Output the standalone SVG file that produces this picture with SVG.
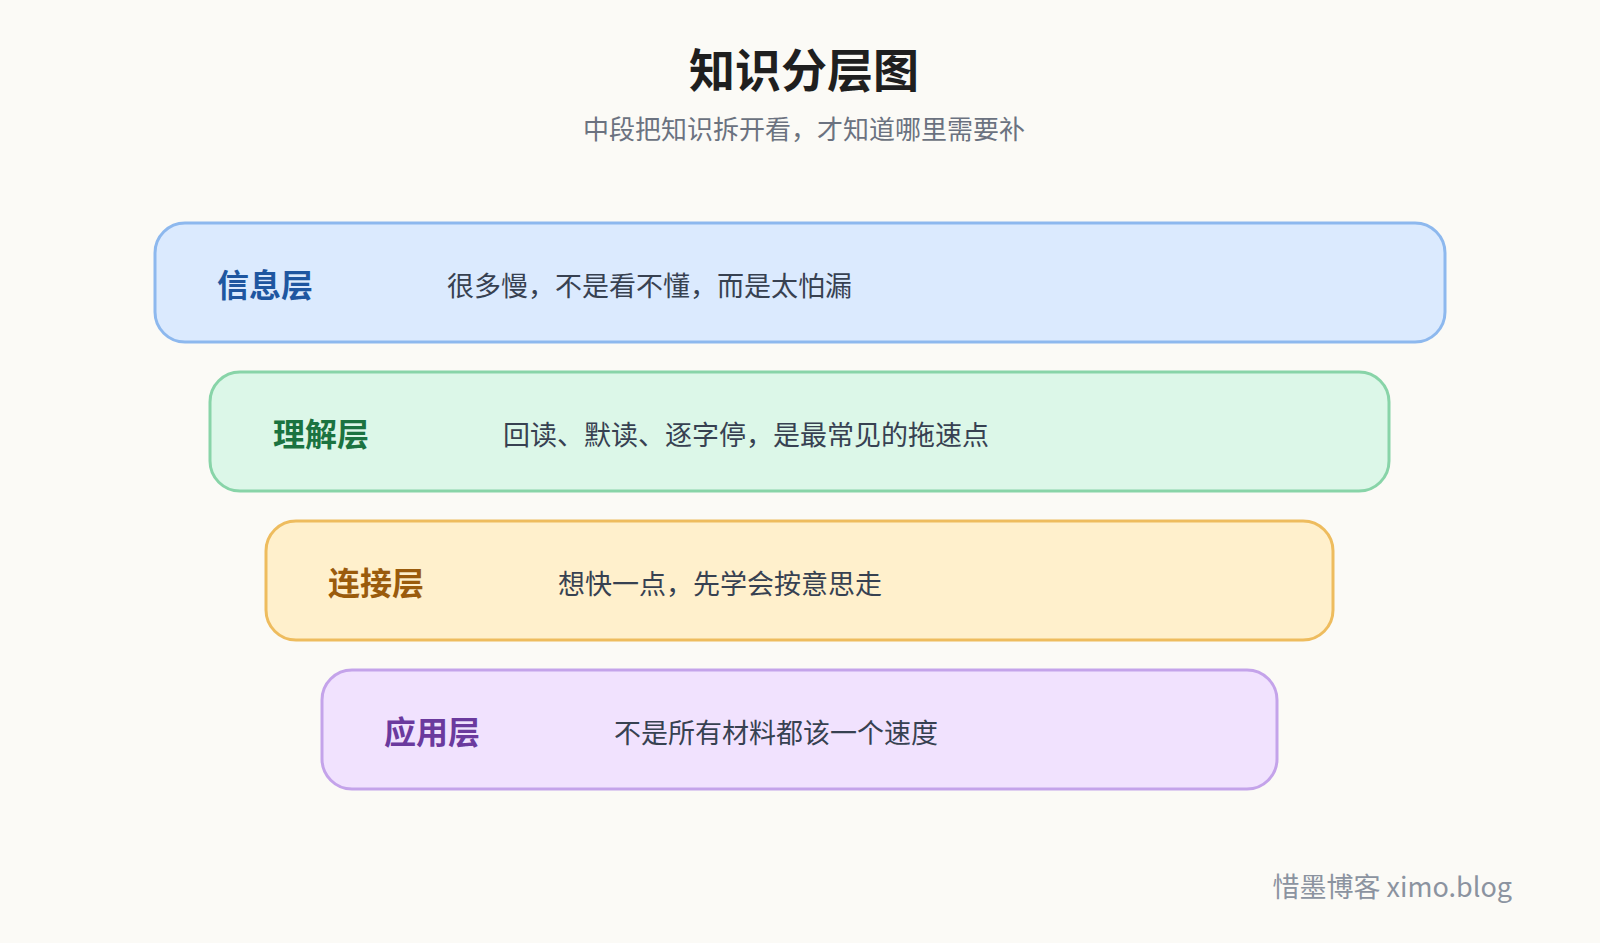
<svg xmlns="http://www.w3.org/2000/svg" width="1600" height="943" viewBox="0 0 1600 943">
<style>
text{font-family:"Noto Sans CJK SC","Noto Sans",sans-serif}
.lab{font-size:32px;font-weight:bold;dominant-baseline:central}
.desc{font-size:27px;fill:#374151;dominant-baseline:central}
rect{stroke-width:3}
</style>
<rect width="1600" height="943" fill="#fbfaf6"/>
<text x="804" y="67" font-size="46" font-weight="bold" fill="#1f1f1f" text-anchor="middle" dominant-baseline="central">知识分层图</text>
<text x="804" y="127" font-size="26" fill="#6b7280" text-anchor="middle" dominant-baseline="central">中段把知识拆开看，才知道哪里需要补</text>
<g id="n1"><rect x="155" y="223" width="1290" height="119" rx="30" fill="#dbeafe" stroke="#8db8ee"/><text class="lab" x="217" y="283" fill="#1e56a0">信息层</text><text class="desc" x="447" y="284">很多慢，不是看不懂，而是太怕漏</text></g>
<g id="n2"><rect x="210" y="372" width="1179" height="119" rx="30" fill="#dcf7e8" stroke="#88d4a8"/><text class="lab" x="273" y="432" fill="#1b7340">理解层</text><text class="desc" x="503" y="433">回读、默读、逐字停，是最常见的拖速点</text></g>
<g id="n3"><rect x="266" y="521" width="1067" height="119" rx="30" fill="#fff0cc" stroke="#eebc5e"/><text class="lab" x="328" y="581" fill="#9a5b0c">连接层</text><text class="desc" x="558" y="582">想快一点，先学会按意思走</text></g>
<g id="n4"><rect x="322" y="670" width="955" height="119" rx="30" fill="#f1e2fe" stroke="#c4a3ea"/><text class="lab" x="384" y="730" fill="#6b3a9e">应用层</text><text class="desc" x="614" y="731">不是所有材料都该一个速度</text></g>
<g id="connectors"/>
<text x="1512" y="885" font-size="27" fill="#8b93a0" text-anchor="end" dominant-baseline="central">惜墨博客 ximo.blog</text>
</svg>
